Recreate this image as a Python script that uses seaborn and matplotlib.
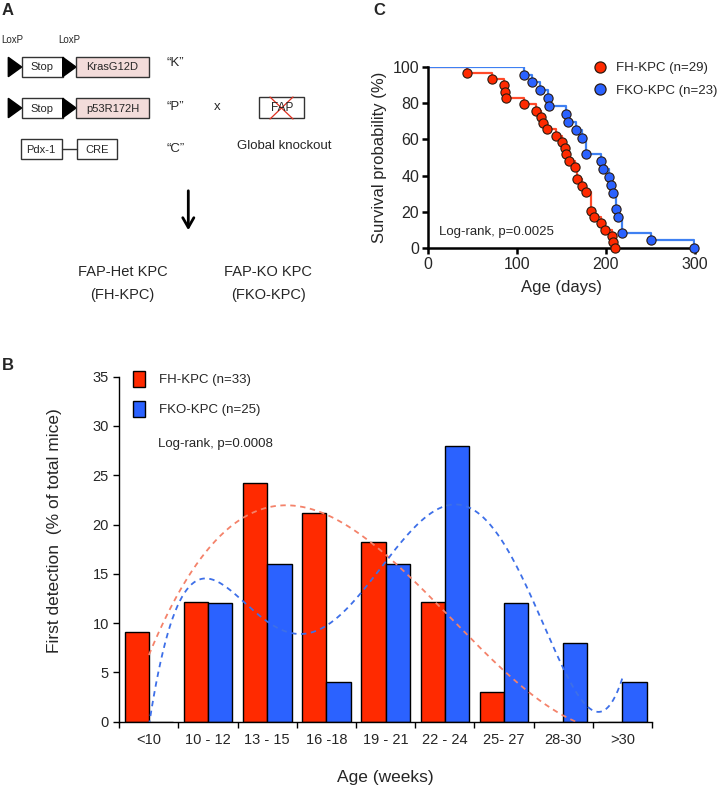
import numpy as np
import pandas as pd
import matplotlib
matplotlib.use("Agg")
import matplotlib.pyplot as plt
import seaborn as sns
from matplotlib.patches import Rectangle, Polygon, Patch
from matplotlib.lines import Line2D

# ------------------------------------------------------------
# DATA
# ------------------------------------------------------------
# panel B : first detection (% of total mice)
age_groups = ["<10", "10 - 12", "13 - 15", "16 -18", "19 - 21", "22 - 24", "25- 27", "28-30", ">30"]
fh_pct = [9.09, 12.12, 24.24, 21.21, 18.18, 12.12, 3.03, 0.0, 0.0]
fko_pct = [0.0, 12.0, 16.0, 4.0, 16.0, 28.0, 12.0, 8.0, 4.0]

# panel C : age at death (days), one entry per mouse
fh_days = [44, 72, 85.6, 86.4, 87.5, 108.5, 122, 127, 129, 133.5, 143.6, 150.4,
           154, 155.2, 159, 165.3, 168, 168, 172.8, 177.7, 183, 183, 183, 187,
           194.5, 199, 206.4, 207.6, 210]
fko_days = [108, 117, 126, 135, 136.5, 155, 157, 166, 173, 177.5, 177.5, 194.5,
            196.4, 203.8, 205.7, 207.6, 211, 211, 213.2, 217.7, 217.7, 250.6, 299]

RED = "#ff2a00"
BLUE = "#2b62ff"
RED_LINE = "#ff4a2a"
BLUE_LINE = "#3f80f2"

W, H = 718, 787

sns.set_style("ticks")
plt.rcParams["font.family"] = ["Liberation Sans", "DejaVu Sans"]

fig = plt.figure(figsize=(W / 100, H / 100), dpi=100)


def px_axes(l, t, r, b):
    return fig.add_axes([l / W, 1 - b / H, (r - l) / W, (b - t) / H])


# ------------------------------------------------------------
# PANEL A : schematic (pixel coordinates overlay)
# ------------------------------------------------------------
ax0 = fig.add_axes([0, 0, 1, 1], zorder=-1)
ax0.set_xlim(0, W)
ax0.set_ylim(H, 0)
ax0.axis("off")

pink = "#f3dcda"
edge = "#333333"
for top in (57.3, 98.3):
    h = 19.4
    ax0.add_patch(Polygon([(8.3, top), (8.3, top + h), (21.7, top + h / 2)], color="black"))
    ax0.add_patch(Rectangle((21.7, top), 41, h, fc="white", ec=edge, lw=1))
    ax0.add_patch(Polygon([(62.7, top), (62.7, top + h), (76, top + h / 2)], color="black"))
    ax0.add_patch(Rectangle((76, top), 73, h, fc=pink, ec=edge, lw=1))
    ax0.text(42.2, top + h / 2 + 0.5, "Stop", ha="center", va="center", fontsize=8)
ax0.text(112.5, 67.5, "KrasG12D", ha="center", va="center", fontsize=8)
ax0.text(112.5, 108.5, "p53R172H", ha="center", va="center", fontsize=8)

ax0.add_patch(Rectangle((20.7, 139.3), 41, 20, fc="white", ec=edge, lw=1))
ax0.plot([61.7, 76.7], [149.3, 149.3], color=edge, lw=1)
ax0.add_patch(Rectangle((76.7, 139.3), 40, 20, fc="white", ec=edge, lw=1))
ax0.text(41.2, 149.8, "Pdx-1", ha="center", va="center", fontsize=8)
ax0.text(96.7, 149.8, "CRE", ha="center", va="center", fontsize=8)

ax0.text(12, 40, "LoxP", ha="center", va="center", fontsize=7)
ax0.text(69, 40, "LoxP", ha="center", va="center", fontsize=7)
ax0.text(175.7, 63.5, "\u201cK\u201d", ha="center", va="center", fontsize=9.5)
ax0.text(175.7, 107.5, "\u201cP\u201d", ha="center", va="center", fontsize=9.5)
ax0.text(175.7, 148.5, "\u201cC\u201d", ha="center", va="center", fontsize=9.5)
ax0.text(217.3, 107.5, "x", ha="center", va="center", fontsize=9.5)

ax0.add_patch(Rectangle((259.3, 96.7), 45, 21.7, fc="white", ec=edge, lw=1))
ax0.text(281.8, 108, "FAP", ha="center", va="center", fontsize=8.5)
ax0.plot([270, 293], [97, 119], color="#e03020", lw=0.9)
ax0.plot([293, 270], [97, 119], color="#e03020", lw=0.9)
ax0.text(284, 146, "Global knockout", ha="center", va="center", fontsize=9.5)

ax0.annotate("", xy=(188.3, 233), xytext=(188.3, 188),
             arrowprops=dict(arrowstyle="->,head_length=0.7,head_width=0.4", color="black", lw=2))

ax0.text(122.7, 272, "FAP-Het KPC", ha="center", va="center", fontsize=10.5)
ax0.text(122.7, 295.5, "(FH-KPC)", ha="center", va="center", fontsize=10.5)
ax0.text(268.3, 272, "FAP-KO KPC", ha="center", va="center", fontsize=10.5)
ax0.text(268.3, 295.5, "(FKO-KPC)", ha="center", va="center", fontsize=10.5)

for lab, x, y in [("A", 1.5, 3), ("B", 1.5, 358.5), ("C", 373, 3)]:
    ax0.text(x, y, lab, ha="left", va="top", fontsize=12, fontweight="bold")

# ------------------------------------------------------------
# PANEL B : bars + polynomial trend lines
# ------------------------------------------------------------
axB = px_axes(119.3, 376.7, 652, 721.7)
df = pd.DataFrame({
    "group": age_groups * 2,
    "pct": fh_pct + fko_pct,
    "geno": ["FH-KPC (n=33)"] * len(age_groups) + ["FKO-KPC (n=25)"] * len(age_groups),
})
sns.barplot(data=df, x="group", y="pct", hue="geno", palette=[RED, BLUE],
            width=0.82, edgecolor="black", linewidth=1, saturation=1,
            errorbar=None, legend=False, ax=axB)

idx = np.arange(len(age_groups))
xs = np.linspace(0, len(age_groups) - 1, 400)
fh_fit = np.polyval(np.polyfit(idx, fh_pct, 3), xs)
fko_fit = np.polyval(np.polyfit(idx, fko_pct, 6), xs)
axB.plot(xs, fh_fit, ls=(0, (3, 2.5)), color="#f4826a", lw=1.3)
axB.plot(xs, fko_fit, ls=(0, (3, 2.5)), color="#3d6fe8", lw=1.3)

axB.set_xlim(-0.5, len(age_groups) - 0.5)
axB.set_ylim(0, 35)
axB.set_yticks(range(0, 36, 5))
axB.set_xticks(np.arange(-0.5, len(age_groups), 1.0))
axB.set_xticklabels([])
axB.set_xticks(idx, minor=True)
axB.set_xticklabels(age_groups, minor=True, fontsize=10.5)
axB.tick_params(axis="x", which="minor", length=0, pad=8)
axB.tick_params(axis="x", which="major", length=4, width=1, color="black")
axB.tick_params(axis="y", length=4, width=1, labelsize=10.5, color="black")
for s in ("top", "right"):
    axB.spines[s].set_visible(False)
for s in ("left", "bottom"):
    axB.spines[s].set_linewidth(1)
    axB.spines[s].set_color("black")
axB.set_xlabel("Age (weeks)", fontsize=12.5, labelpad=17)
axB.set_ylabel("First detection  (% of total mice)", fontsize=12.5)
axB.yaxis.set_label_coords(-0.108, 0.553)

leg_handles = [Patch(fc=RED, ec="black", lw=1, label="FH-KPC (n=33)"),
               Patch(fc=BLUE, ec="black", lw=1, label="FKO-KPC (n=25)")]
axB.legend(handles=leg_handles, loc="upper left", bbox_to_anchor=(133 / W, 1 - 371 / H),
           bbox_transform=fig.transFigure, frameon=False, fontsize=9.5,
           handlelength=0.91, handleheight=1.44, handletextpad=1.06,
           labelspacing=1.1, borderpad=0, borderaxespad=0)
axB.text(158 / W, 1 - 444 / H, "Log-rank, p=0.0008", transform=fig.transFigure,
         ha="left", va="center", fontsize=9.5)

# ------------------------------------------------------------
# PANEL C : Kaplan-Meier curves
# ------------------------------------------------------------
axC = px_axes(427.7, 66.7, 695, 248.3)


def km(days):
    t, d = np.unique(np.asarray(days, dtype=float), return_counts=True)
    surv = 100.0 * (1 - np.cumsum(d) / len(days))
    return t, surv


for days, col, lcol, lab in [(fh_days, RED, RED_LINE, "FH-KPC (n=29)"),
                             (fko_days, BLUE, BLUE_LINE, "FKO-KPC (n=23)")]:
    t, s = km(days)
    step = pd.DataFrame({"t": np.r_[0, t], "s": np.r_[100, s]})
    sns.lineplot(data=step, x="t", y="s", drawstyle="steps-post", color=lcol,
                 lw=1.6, estimator=None, ax=axC)
    sns.scatterplot(x=t, y=s, color=col, s=44, edgecolor="#2a1a10", linewidth=0.8,
                    zorder=5, clip_on=False, ax=axC)

axC.set_xlim(0, 300)
axC.set_ylim(0, 100)
axC.set_xticks([0, 100, 200, 300])
axC.set_yticks(range(0, 101, 20))
for s in ("top", "right"):
    axC.spines[s].set_visible(False)
for s in ("left", "bottom"):
    axC.spines[s].set_linewidth(1.8)
    axC.spines[s].set_color("black")
axC.tick_params(length=4, width=1.8, labelsize=11.5, color="black", pad=2)
axC.set_xlabel("Age (days)", fontsize=12, labelpad=6)
axC.set_ylabel("Survival probability (%)", fontsize=12, labelpad=4)

c_handles = [Line2D([], [], ls="", marker="o", ms=8, mfc=RED, mec="#2a1a10", mew=0.9, label="FH-KPC (n=29)"),
             Line2D([], [], ls="", marker="o", ms=8, mfc=BLUE, mec="#2a1a10", mew=0.9, label="FKO-KPC (n=23)")]
axC.legend(handles=c_handles, loc="upper left", bbox_to_anchor=(593.4 / W, 1 - 62 / H),
           bbox_transform=fig.transFigure, frameon=False, fontsize=9.5,
           handlelength=1.0, handletextpad=0.71, labelspacing=0.78,
           borderpad=0, borderaxespad=0)
axC.text(439 / W, 1 - 232 / H, "Log-rank, p=0.0025", transform=fig.transFigure,
         ha="left", va="center", fontsize=9.5)

fig.savefig("out.png", dpi=100)
